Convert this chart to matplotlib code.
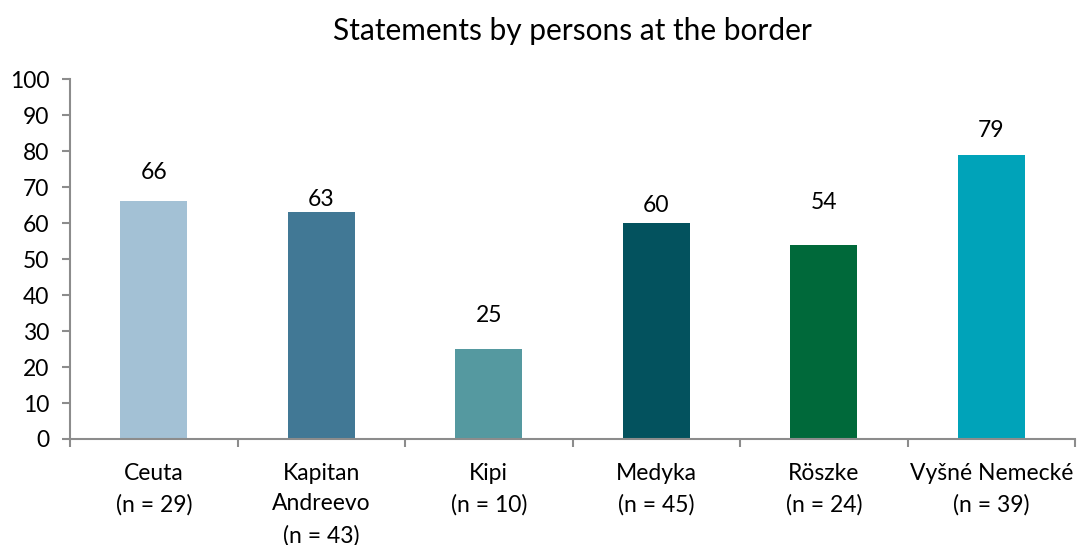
import matplotlib.pyplot as plt

# data
categories = ["Ceuta\n(n = 29)", "Kapitan\nAndreevo\n(n = 43)", "Kipi\n(n = 10)",
              "Medyka\n(n = 45)", "Röszke\n(n = 24)", "Vyšné Nemecké\n(n = 39)"]
values = [66, 63, 25, 60, 54, 79]
colors = ["#A3C1D5", "#417895", "#5599A0", "#03525E", "#00693A", "#00A3B9"]
# the label offsets above each bar differ in the original
label_pad = [8.0, 3.5, 9.4, 5.0, 11.7, 6.6]

plt.rcParams['font.family'] = ['Lato', 'DejaVu Sans']

fig = plt.figure(figsize=(10.79, 5.45), dpi=100)
ax = fig.add_axes([0.0649, 0.1945, 0.9314, 0.6605])

x = range(len(values))
ax.bar(x, values, width=0.4, color=colors)
for i, v in enumerate(values):
    ax.text(i, v + label_pad[i], str(v), ha="center", va="center", fontsize=16.5)

ax.set_xlim(-0.5, len(values) - 0.5)
ax.set_ylim(0, 100)
ax.set_yticks(range(0, 101, 10))
ax.tick_params(axis="y", labelsize=16.5, direction="out", length=6, width=1.5, color="#8c8c8c", pad=9)

# category ticks sit between the bars, labels in the middle
ax.set_xticks([i - 0.5 for i in range(len(values) + 1)])
ax.set_xticklabels([])
ax.set_xticks(list(x), minor=True)
ax.set_xticklabels(categories, minor=True, fontsize=16.5, linespacing=1.58, va="top")
ax.tick_params(axis="x", which="major", direction="out", length=6, width=1.5, color="#8c8c8c")
ax.tick_params(axis="x", which="minor", length=0, pad=17)

for s in ["top", "right"]:
    ax.spines[s].set_visible(False)
for s in ["left", "bottom"]:
    ax.spines[s].set_color("#8c8c8c")
    ax.spines[s].set_linewidth(1.5)

ax.set_title("Statements by persons at the border", fontsize=21.5, pad=28)

fig.savefig("out.png", dpi=100)
